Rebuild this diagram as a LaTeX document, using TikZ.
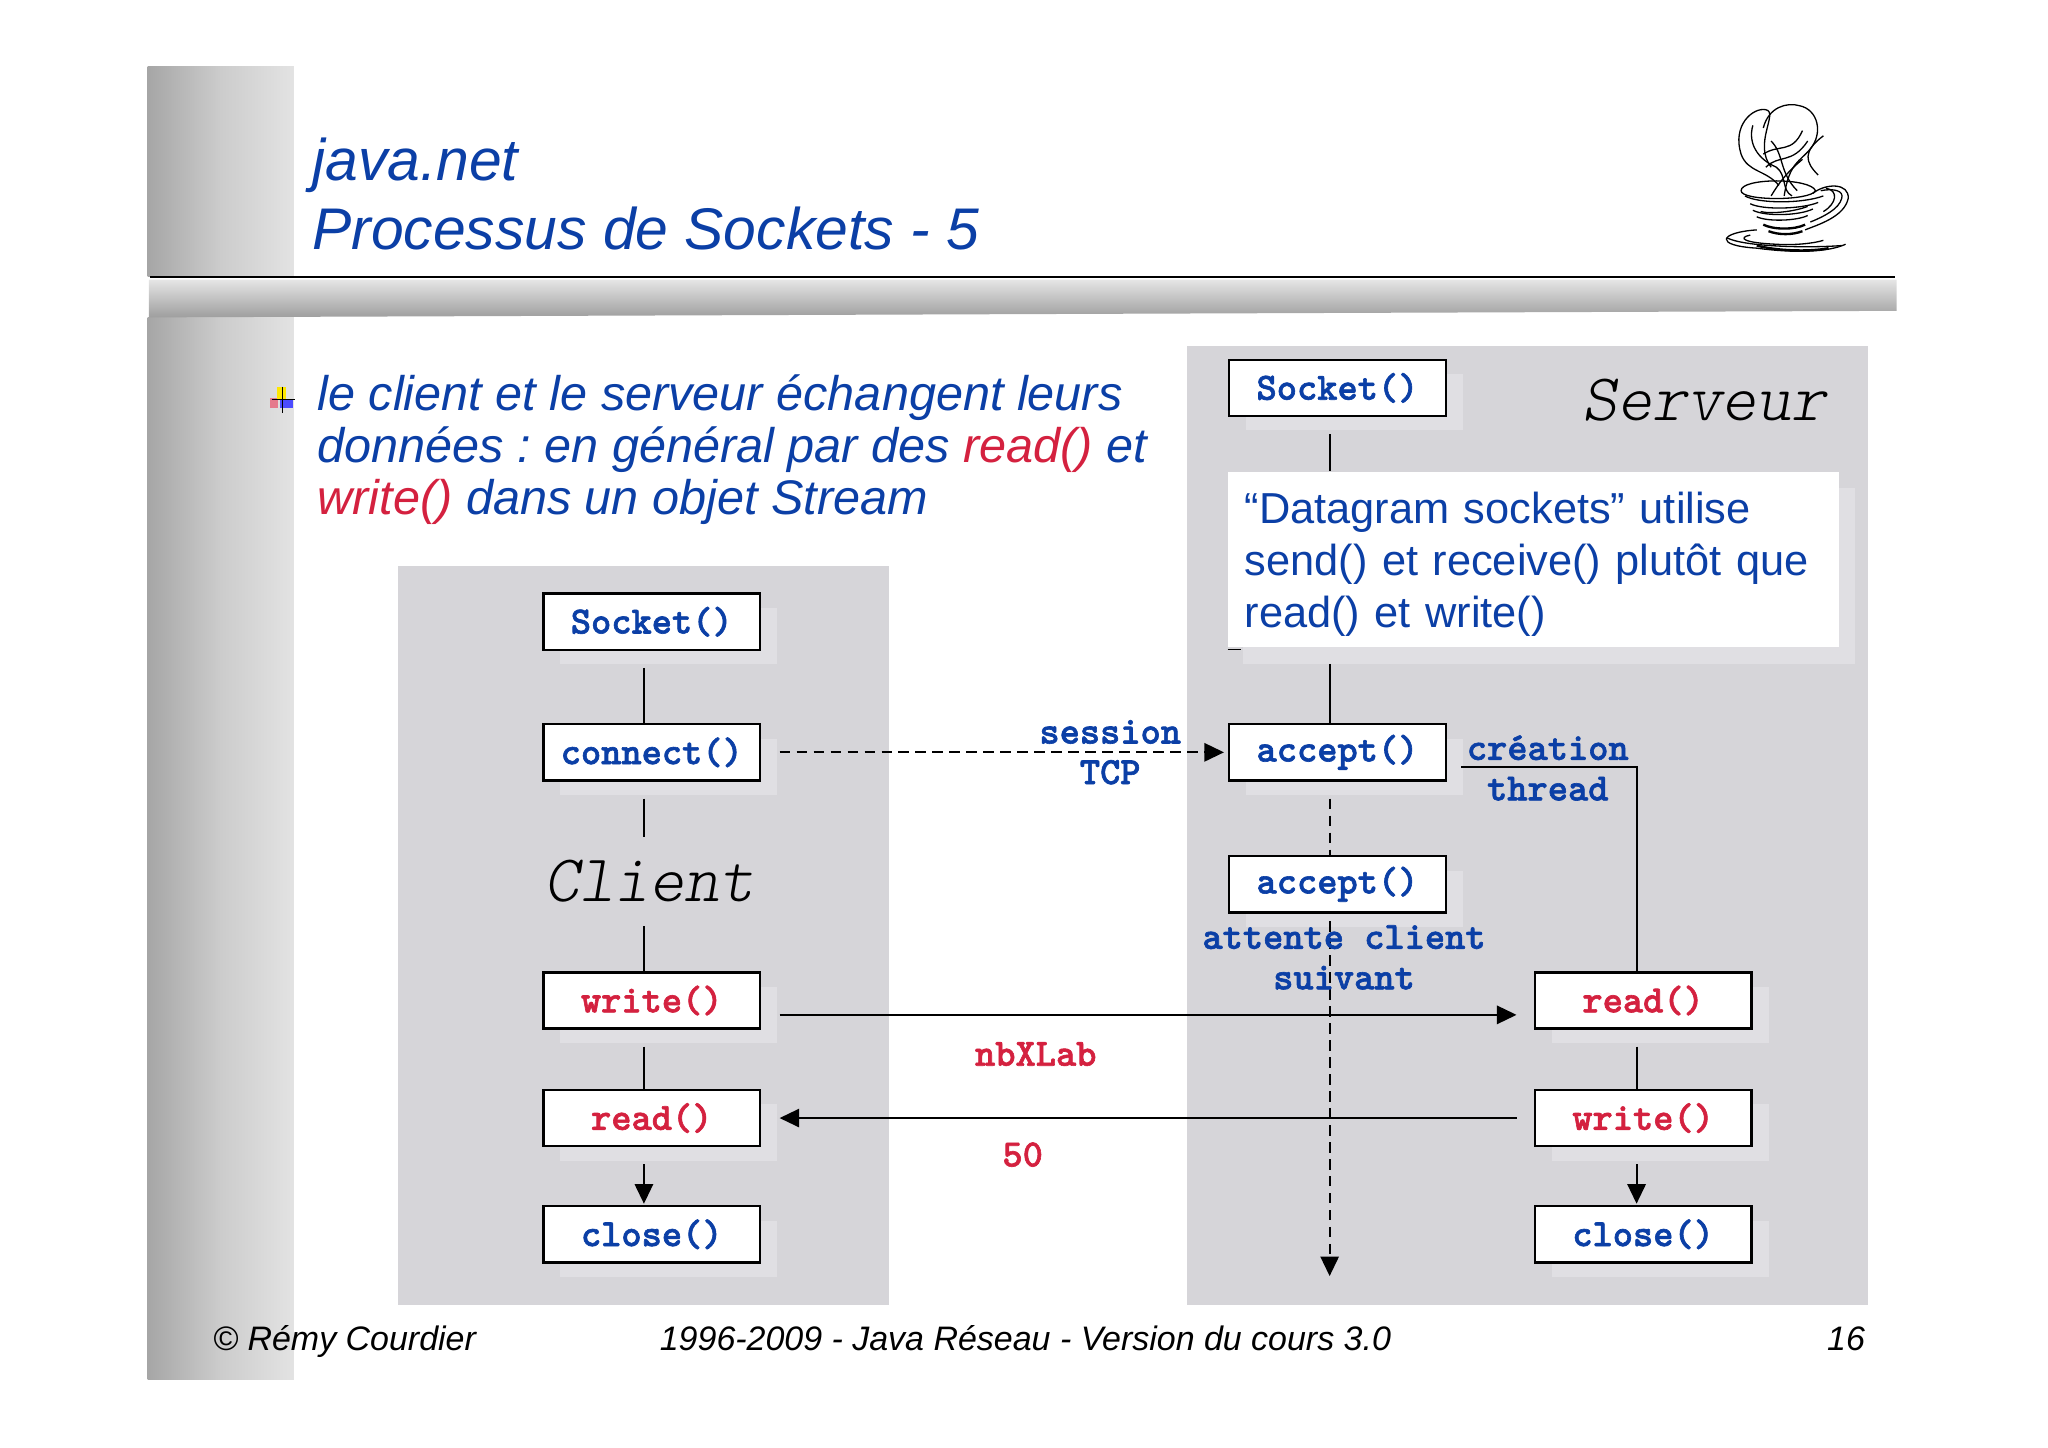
\documentclass[tikz,border=0pt]{standalone}
\usepackage{fontspec}
\usepackage{xcolor}
\usepackage{tikz}
\usetikzlibrary{arrows.meta,shadows}
\setmainfont{Liberation Sans}
\newfontfamily\codefont{lmmonolt10-bold}[Extension=.otf,FakeBold=1.6]
\newfontfamily\rolefont{lmmonolt10-oblique}[Extension=.otf]
\definecolor{titleblue}{HTML}{0B3FA6}
\definecolor{callred}{HTML}{D4213F}
\definecolor{panelgray}{HTML}{D6D5D9}
\definecolor{shadegray}{HTML}{E0DFE3}
\tikzset{
    call/.style={draw=black,line width=1.8pt,fill=white,minimum width=166pt,minimum height=43pt,inner sep=0pt,
                 font=\fontsize{29.5}{30}\selectfont\codefont,text=titleblue,
                 general shadow={shadow xshift=13pt,shadow yshift=-11pt,fill=shadegray}},
    red call/.style={call,text=callred},
    lab/.style={font=\fontsize{29.5}{31}\selectfont\codefont,text=titleblue,align=center,inner sep=0pt},
    role/.style={font=\fontsize{51}{51}\selectfont\rolefont,text=black,inner sep=0pt,minimum height=68pt},
    conn/.style={draw=black,line width=1.6pt},
    arrowed/.style={-{Triangle[length=15pt,width=14pt]}},
    dashy/.style={dash pattern=on 8pt off 5pt},
}
\begin{document}
\begin{tikzpicture}[x=1pt,y=-1pt]
    \useasboundingbox (0,0) rectangle (1568,1107.9);

    \shade[left color=black!35,right color=black!11,middle color=black!20] (113,51) rectangle (225,212);
    \shade[left color=black!35,right color=black!11,middle color=black!20] (113,243) rectangle (225,1056);
    \shade[top color=black!10,bottom color=black!38] (114,214) -- (1452,214) -- (1452,238) -- (114,243) -- cycle;
    \draw[black,line width=1.8pt] (115,212) -- (1451,212);

    \fill[panelgray] (305,433) rectangle (681,999);
    \fill[panelgray] (909,265) rectangle (1430,999);

    \begin{scope}[every node/.style={inner sep=0pt,anchor=base west,text=titleblue,align=left}]
        \node[font=\fontsize{45}{53}\selectfont\itshape] (title) at (239,191) {java.net\\Processus de Sockets - 5};
        \node[font=\fontsize{37.2}{40}\selectfont\itshape\frenchspacing] (text) at (243,394) {le client et le serveur échangent leurs\\données : en général par des \textcolor{callred}{read()} et\\\textcolor{callred}{write()} dans un objet Stream};
    \end{scope}

    \fill[callred!60] (207,305) rectangle (213,312);
    \fill[yellow!90!orange] (212,296) rectangle (219,306);
    \fill[blue!70] (214,306) rectangle (224,312);
    \draw[black,line width=.8pt] (216,296) -- (216,316) (208,306) -- (226,306);

    \begin{scope}[every node/.style={call}]
        \node (csock) at (499,476) {Socket()};
        \node (cconn) at (499,576) {connect()};
        \node[red call] (cwrite) at (499,766) {write()};
        \node[red call] (cread) at (499,856) {read()};
        \node (cclose) at (499,945) {close()};

        \node (ssock) at (1024,297) {Socket()};
        \node (saccept) at (1024,576) {accept()};
        \node (snext) at (1024,677) {accept()};
        \node[red call] (sread) at (1258,766) {read()};
        \node[red call] (swrite) at (1258,856) {write()};
        \node (sclose) at (1258,945) {close()};
    \end{scope}

    \node[role] (client) at (497,675) {Client};
    \node[role] (server) at (1305,306) {Serveur};

    \node[fill=white,inner xsep=13pt,inner ysep=0pt,text width=442pt,minimum height=134pt,align=left,text=titleblue,
          font=\fontsize{33.2}{40}\selectfont,general shadow={shadow xshift=12pt,shadow yshift=-13pt,fill=shadegray}] (note) at (1174,428)
          {\rule{0pt}{32pt}“Datagram sockets” utilise\\send() et receive() plutôt que\\read() et write()};

    \coordinate (end) at (1018,977);

    \begin{scope}[every path/.style={conn}]
        \path ([xshift=-6pt]csock.south) edge[shorten <=13pt] ([xshift=-6pt]cconn.north);
        \path ([xshift=-6pt]cconn.south) edge[shorten <=13pt] ([xshift=-6pt]cconn.south |- client.north);
        \path ([xshift=-6pt]cwrite.north |- client.south) edge ([xshift=-6pt]cwrite.north);
        \path ([xshift=-6pt]cwrite.south) edge[shorten <=13pt] ([xshift=-6pt]cread.north);
        \path ([xshift=-6pt]cread.south) edge[arrowed,shorten <=13pt,shorten >=1pt] ([xshift=-6pt]cclose.north);

        \path ([xshift=-6pt]ssock.south) edge[shorten <=13pt] ([xshift=-6pt]ssock.south |- note.north);
        \path ([xshift=-6pt]saccept.north |- note.south) edge[shorten <=13pt] ([xshift=-6pt]saccept.north);
        \path ([xshift=-6pt]saccept.south) edge[dashy,shorten <=13pt] ([xshift=-6pt]snext.north);
        \path ([xshift=-6pt]snext.south) edge[dashy,arrowed,shorten <=6pt] (end);

        \path (cconn.east) edge[dashy,arrowed,shorten <=14pt,shorten >=3pt] (saccept.west);
        \path ([yshift=-11pt]cwrite.east) edge[arrowed,shorten <=14pt,shorten >=13pt] ([yshift=-11pt]sread.west);
        \path (swrite.west) edge[arrowed,shorten <=13pt,shorten >=14pt] (cread.east);

        \draw ([shift={(11pt,-11pt)}]saccept.east) -| ([xshift=-5pt]sread.north);
        \path ([xshift=-5pt]sread.south) edge[shorten <=13pt] ([xshift=-5pt]swrite.north);
        \path ([xshift=-5pt]swrite.south) edge[arrowed,shorten <=13pt,shorten >=1pt] ([xshift=-5pt]sclose.north);

        \draw[line width=.8pt] ([yshift=-2pt]note.south west) -- ++(10,0);
    \end{scope}

    \begin{scope}[every node/.style={lab}]
        \node (tcp) at (850,576) {session\\TCP};
        \node (thread) at (1185,588) {création\\thread};
        \node (wait) at (1029,733) {attente client\\suivant};
        \node[text=callred] (nbx) at (793,807) {nbXLab};
        \node[text=callred] (fifty) at (783,884) {50};
    \end{scope}

    \begin{scope}[every node/.style={inner sep=0pt,anchor=base,font=\fontsize{26}{30}\selectfont\itshape,text=black}]
        \node[anchor=base west] (author) at (163,1034) {© Rémy Courdier};
        \node[anchor=base west] (course) at (505,1034) {1996-2009 - Java Réseau - Version du cours 3.0};
        \node[anchor=base east] (page) at (1428,1034) {16};
    \end{scope}

    \begin{scope}[line width=1pt,black]
        \draw (1362,142) .. controls (1352,130) and (1338,132) .. (1333,118) .. controls (1326,96) and (1342,82) .. (1352,84) .. controls (1362,86) and (1342,110) .. (1356,128);
        \draw (1350,98) .. controls (1354,82) and (1368,78) .. (1378,81) .. controls (1392,84) and (1396,102) .. (1386,114) .. controls (1378,124) and (1370,124) .. (1366,150);
        \draw (1342,96) .. controls (1338,110) and (1346,122) .. (1360,128) .. controls (1368,134) and (1364,146) .. (1372,150);
        \draw (1356,108) .. controls (1366,118) and (1362,132) .. (1376,146);
        \draw (1350,118) .. controls (1362,110) and (1372,118) .. (1380,100);
        \draw (1352,128) .. controls (1362,118) and (1372,126) .. (1384,108);
        \draw (1396,104) .. controls (1380,116) and (1382,124) .. (1392,134);
        \draw (1356,150) .. controls (1362,140) and (1368,132) .. (1380,122);
        \draw (1333,146) .. controls (1333,136) and (1386,136) .. (1390,146) .. controls (1386,154) and (1333,154) .. (1333,146);
        \draw (1336,150) .. controls (1346,156) and (1380,156) .. (1396,150);
        \draw (1340,156) .. controls (1350,161) and (1380,160) .. (1392,155);
        \draw (1342,161) .. controls (1352,166) and (1378,165) .. (1388,160);
        \draw (1345,166) .. controls (1354,170) and (1376,169) .. (1384,165);
        \draw (1384,158) .. controls (1374,162) and (1356,164) .. (1348,162);
        \draw[line width=1.8pt] (1350,172) .. controls (1358,176) and (1374,176) .. (1382,172);
        \draw[line width=1.8pt] (1354,177) .. controls (1362,180) and (1372,180) .. (1380,177);
        \draw (1388,148) .. controls (1398,140) and (1416,140) .. (1415,152) .. controls (1412,166) and (1392,172) .. (1382,176);
        \draw (1394,146) .. controls (1404,144) and (1412,146) .. (1410,152) .. controls (1408,160) and (1396,166) .. (1386,170);
        \draw (1398,144) .. controls (1408,146) and (1406,156) .. (1396,162);
        \draw (1345,176) .. controls (1316,178) and (1312,188) .. (1345,190) .. controls (1375,194) and (1400,193) .. (1413,187);
        \draw (1322,182) .. controls (1335,189) and (1385,190) .. (1410,188);
        \draw (1340,180) .. controls (1330,182) and (1335,186) .. (1360,187) .. controls (1375,188) and (1390,186) .. (1396,184);
        \draw[line width=1.8pt] (1345,188) .. controls (1360,192) and (1385,193) .. (1400,190);
    \end{scope}
\end{tikzpicture}
\end{document}
